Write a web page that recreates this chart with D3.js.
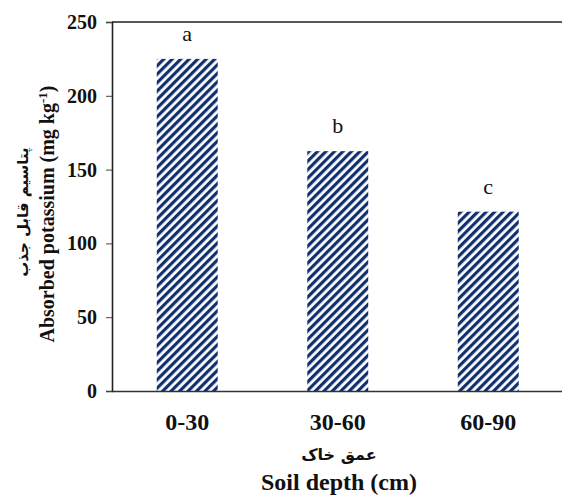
<!DOCTYPE html>
<html>
<head>
<meta charset="utf-8">
<script src="https://cdn.jsdelivr.net/npm/d3@7"></script>
<style>
  html, body { margin: 0; padding: 0; background: #fff; }
  svg { display: block; }
</style>
</head>
<body>
<script>
const categories = ["0-30", "30-60", "60-90"];
const values = [225, 162.5, 121.5];
const letters = ["a", "b", "c"];
const yTicks = [0, 50, 100, 150, 200, 250];

const W = 562, H = 495;
const svg = d3.select("body").append("svg").attr("width", W).attr("height", H);

const x = d3.scaleBand().domain(categories).range([112, 563.5])
  .paddingInner(0.595).paddingOuter(0.2975);
const y = d3.scaleLinear().domain([0, 250]).range([391, 22]);

const defs = svg.append("defs");
const pat = defs.append("pattern").attr("id", "stripes")
  .attr("patternUnits", "userSpaceOnUse").attr("width", 6).attr("height", 6)
  .attr("patternTransform", "rotate(45)");
pat.append("rect").attr("width", 6).attr("height", 6).attr("fill", "#ffffff");
pat.append("rect").attr("x", 0).attr("y", 0).attr("width", 3.2).attr("height", 6).attr("fill", "#13306e");

const serif = "'Liberation Serif', 'Times New Roman', serif";

// top border
svg.append("line").attr("x1", 112).attr("x2", W).attr("y1", y(250)).attr("y2", y(250))
  .attr("stroke", "#222").attr("stroke-width", 1.6);

// bars
svg.selectAll("rect.bar").data(values).join("rect").attr("class", "bar")
  .attr("x", (d, i) => x(categories[i]))
  .attr("width", x.bandwidth())
  .attr("y", d => y(d))
  .attr("height", d => y(0) - y(d))
  .attr("fill", "url(#stripes)");

// letters
svg.selectAll("text.let").data(values).join("text").attr("class", "let")
  .attr("x", (d, i) => x(categories[i]) + x.bandwidth() / 2)
  .attr("y", d => y(d) - 18)
  .attr("text-anchor", "middle")
  .attr("font-family", serif).attr("font-size", 22).attr("fill", "#111")
  .text((d, i) => letters[i]);

// y axis
const yAxis = svg.append("g").attr("transform", "translate(112,0)")
  .call(d3.axisLeft(y).tickValues(yTicks).tickSize(6).tickPadding(9).tickFormat(d3.format("d")));
yAxis.select(".domain").attr("stroke", "#222").attr("stroke-width", 1.6);
yAxis.selectAll(".tick line").attr("stroke", "#444").attr("stroke-width", 1);
yAxis.selectAll(".tick text").attr("font-family", serif).attr("font-weight", "bold")
  .attr("font-size", 20).attr("fill", "#111");

// x axis
const xAxis = svg.append("g").attr("transform", "translate(0,391)")
  .call(d3.axisBottom(x).tickSize(0).tickPadding(22));
xAxis.select(".domain").attr("stroke", "#333").attr("stroke-width", 1.6);
xAxis.selectAll(".tick text").attr("font-family", serif).attr("font-weight", "bold")
  .attr("font-size", 24).attr("fill", "#111");

// x axis titles
svg.append("text").attr("x", 339).attr("y", 460).attr("text-anchor", "middle")
  .attr("font-family", "'DejaVu Sans', 'Noto Sans', sans-serif").attr("font-weight", "bold")
  .attr("font-size", 16).attr("fill", "#111").attr("direction", "rtl").text("عمق خاک");
svg.append("text").attr("x", 339).attr("y", 490).attr("text-anchor", "middle")
  .attr("font-family", serif).attr("font-weight", "bold")
  .attr("font-size", 24).attr("fill", "#111").text("Soil depth (cm)");

// y axis titles
const yl = svg.append("text").attr("transform", "translate(54,214) rotate(-90)")
  .attr("text-anchor", "middle").attr("font-family", serif).attr("font-weight", "bold")
  .attr("font-size", 20).attr("fill", "#111");
yl.append("tspan").text("Absorbed potassium  (mg kg");
yl.append("tspan").attr("dy", -7).attr("font-size", 13).text("-1");
yl.append("tspan").attr("dy", 7).text(")");

svg.append("text").attr("transform", "translate(28,212) rotate(-90)")
  .attr("text-anchor", "middle").attr("font-family", "'DejaVu Sans', 'Noto Sans', sans-serif")
  .attr("font-weight", "bold").attr("font-size", 15).attr("fill", "#111")
  .attr("direction", "rtl").text("پتاسیم قابل جذب");
</script>
</body>
</html>
